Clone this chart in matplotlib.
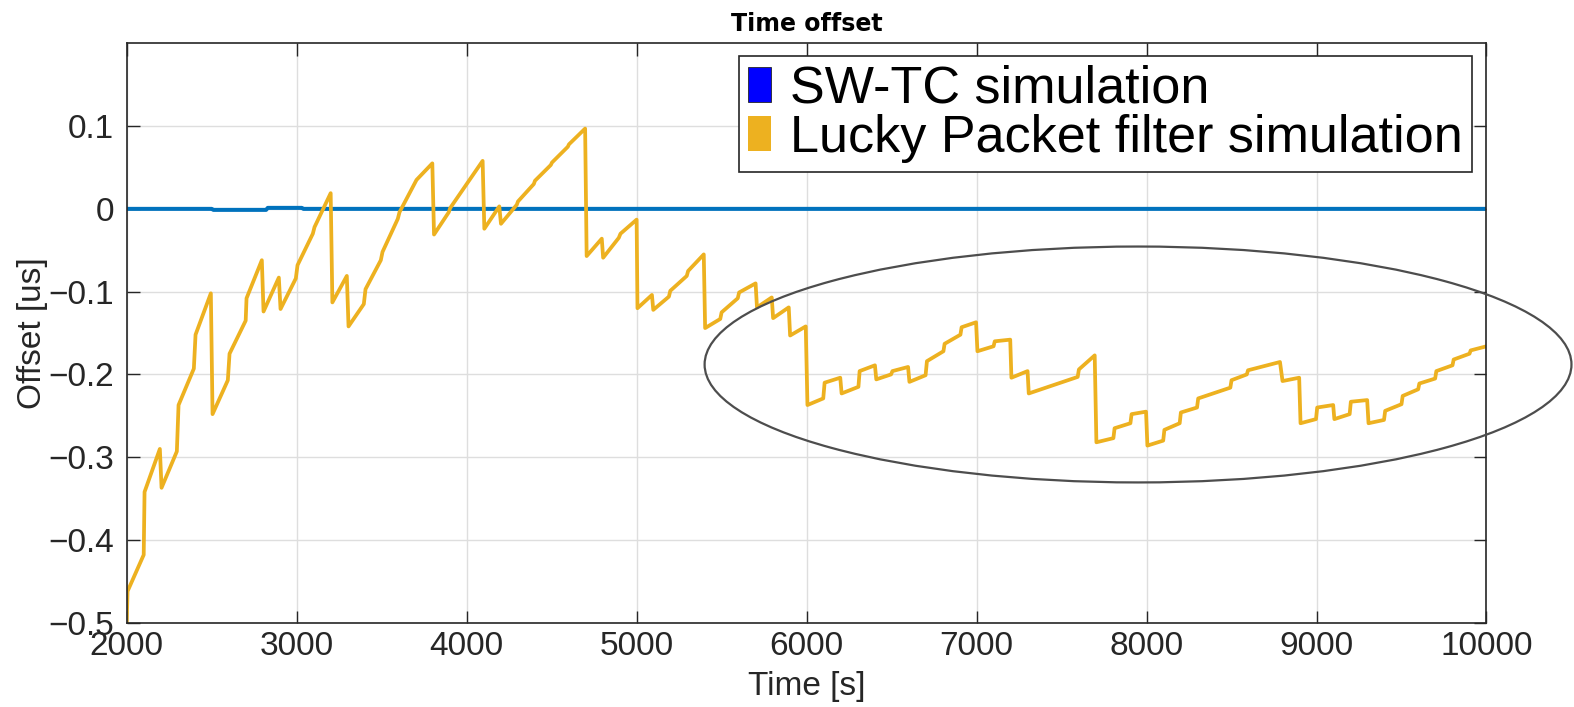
import matplotlib.pyplot as plt
from matplotlib.patches import Ellipse, Patch

# ---- data ----
# SW-TC simulation: stays on zero, small wobble early on
t_sw = [2000, 2500, 2510, 2820, 2830, 3030, 3040, 10000]
off_sw = [0, 0, -0.0012, -0.0012, 0.0012, 0.0012, 0, 0]

# Lucky Packet filter simulation (vertices of the step/drift curve)
t_lp = [
    2000, 2005, 2100, 2105, 2195, 2205, 2295, 2305, 2395, 2405,
    2495, 2505, 2595, 2605, 2700, 2705, 2795, 2805, 2895, 2905,
    2995, 3005, 3095, 3105, 3200, 3210, 3295, 3305, 3395, 3405,
    3495, 3505, 3595, 3605, 3695, 3705, 3798, 3808, 3895, 3903,
    4094, 4104, 4192, 4202, 4295, 4302, 4395, 4402, 4495, 4502,
    4595, 4602, 4697, 4706, 4795, 4803, 4895, 4905, 5000, 5005,
    5090, 5098, 5190, 5198, 5295, 5303, 5395, 5403, 5492, 5500,
    5595, 5603, 5700, 5708, 5795, 5803, 5895, 5903, 5995, 6005,
    6098, 6106, 6198, 6206, 6305, 6312, 6402, 6410, 6497, 6505,
    6597, 6605, 6700, 6708, 6805, 6812, 6905, 6912, 6997, 7005,
    7100, 7107, 7198, 7205, 7300, 7307, 7595, 7602, 7695, 7705,
    7805, 7812, 7905, 7912, 7997, 8005, 8098, 8105, 8195, 8202,
    8297, 8304, 8493, 8500, 8590, 8597, 8785, 8800, 8898, 8906,
    8997, 9004, 9098, 9105, 9195, 9202, 9298, 9306, 9397, 9404,
    9500, 9507, 9598, 9605, 9698, 9705, 9800, 9807, 9900, 9907,
    10000,
]
off_lp = [
    -0.500, -0.462, -0.418, -0.342, -0.290, -0.337, -0.293, -0.237, -0.193, -0.152,
    -0.102, -0.248, -0.207, -0.175, -0.135, -0.108, -0.062, -0.124, -0.083, -0.121,
    -0.084, -0.068, -0.030, -0.022, 0.019, -0.113, -0.081, -0.142, -0.115, -0.097,
    -0.062, -0.052, -0.012, -0.004, 0.031, 0.035, 0.055, -0.031, -0.004, 0.001,
    0.058, -0.024, 0.003, -0.018, 0.005, 0.009, 0.030, 0.034, 0.053, 0.056,
    0.075, 0.078, 0.097, -0.057, -0.036, -0.059, -0.035, -0.030, -0.013, -0.120,
    -0.104, -0.122, -0.106, -0.099, -0.081, -0.075, -0.055, -0.144, -0.133, -0.125,
    -0.108, -0.101, -0.090, -0.119, -0.107, -0.132, -0.119, -0.153, -0.142, -0.237,
    -0.229, -0.210, -0.204, -0.223, -0.215, -0.196, -0.189, -0.206, -0.200, -0.196,
    -0.191, -0.209, -0.201, -0.184, -0.172, -0.163, -0.152, -0.143, -0.137, -0.172,
    -0.166, -0.160, -0.158, -0.204, -0.196, -0.223, -0.203, -0.194, -0.177, -0.282,
    -0.277, -0.265, -0.259, -0.248, -0.245, -0.286, -0.280, -0.267, -0.259, -0.246,
    -0.240, -0.229, -0.216, -0.207, -0.200, -0.195, -0.185, -0.208, -0.204, -0.259,
    -0.254, -0.240, -0.237, -0.254, -0.248, -0.233, -0.231, -0.259, -0.255, -0.244,
    -0.236, -0.226, -0.218, -0.211, -0.205, -0.196, -0.189, -0.182, -0.175, -0.171,
    -0.166,
]

series_names = ["SW-TC simulation", "Lucky Packet filter simulation"]
x_ticks = [2000, 3000, 4000, 5000, 6000, 7000, 8000, 9000, 10000]
y_ticks = [-0.5, -0.4, -0.3, -0.2, -0.1, 0, 0.1]

# highlighted region (centre, width, height in data units)
ring_centre = (7950, -0.188)
ring_w, ring_h = 5100, 0.285

# ---- plotting ----
plt.rcParams['font.family'] = ['Liberation Sans', 'DejaVu Sans']
fig = plt.figure(figsize=(15.74, 7.07), dpi=100)
ax = fig.add_axes([0.0805, 0.1192, 0.8639, 0.8195])

ax.plot(t_sw, off_sw, color="#0072BD", linewidth=2.9)
ax.plot(t_lp, off_lp, color="#EDB120", linewidth=2.7)

ax.set_xlim(2000, 10000)
ax.set_ylim(-0.5, 0.2)
ax.set_xticks(x_ticks)
ax.set_yticks(y_ticks)
ax.set_yticklabels(["\u22120.5", "\u22120.4", "\u22120.3", "\u22120.2", "\u22120.1", "0", "0.1"])

ax.grid(True, color="#dedede", linewidth=1.0)
ax.set_axisbelow(True)
ax.tick_params(direction='in', length=9, width=1.0, color="#262626",
               top=True, right=True, labelsize=24, labelcolor="#262626")
ax.tick_params(axis='y', pad=9)
ax.tick_params(axis='x', pad=6)
for s in ax.spines.values():
    s.set_color("#262626")
    s.set_linewidth(1.2)

ax.set_xlabel("Time [s]", fontsize=24, color="#262626")
ax.set_ylabel("Offset [us]", fontsize=24, color="#262626")
ax.xaxis.set_label_coords(0.5, -0.083)
ax.yaxis.set_label_coords(-0.058, 0.5)
ax.set_title("Time offset", fontsize=17, weight='bold', family='DejaVu Sans', pad=9)

ring = Ellipse(ring_centre, ring_w, ring_h, fill=False, edgecolor="#4d4d4d",
               linewidth=1.6, clip_on=False, zorder=5)
ax.add_patch(ring)

handles = [Patch(facecolor="#0000FF", edgecolor="#262626", linewidth=0.6),
           Patch(facecolor="#EDB120", edgecolor="none")]
leg = ax.legend(handles, series_names, loc='upper right',
                bbox_to_anchor=(1472 / 1574, 1 - 56 / 707),
                bbox_transform=fig.transFigure, borderaxespad=0,
                fontsize=37.5, handlelength=0.45, handleheight=0.64,
                handletextpad=0.37, labelspacing=0.0, borderpad=0.17,
                fancybox=False, framealpha=1, edgecolor="#262626")
leg.get_frame().set_linewidth(1.2)

fig.savefig("out.png", dpi=100)
